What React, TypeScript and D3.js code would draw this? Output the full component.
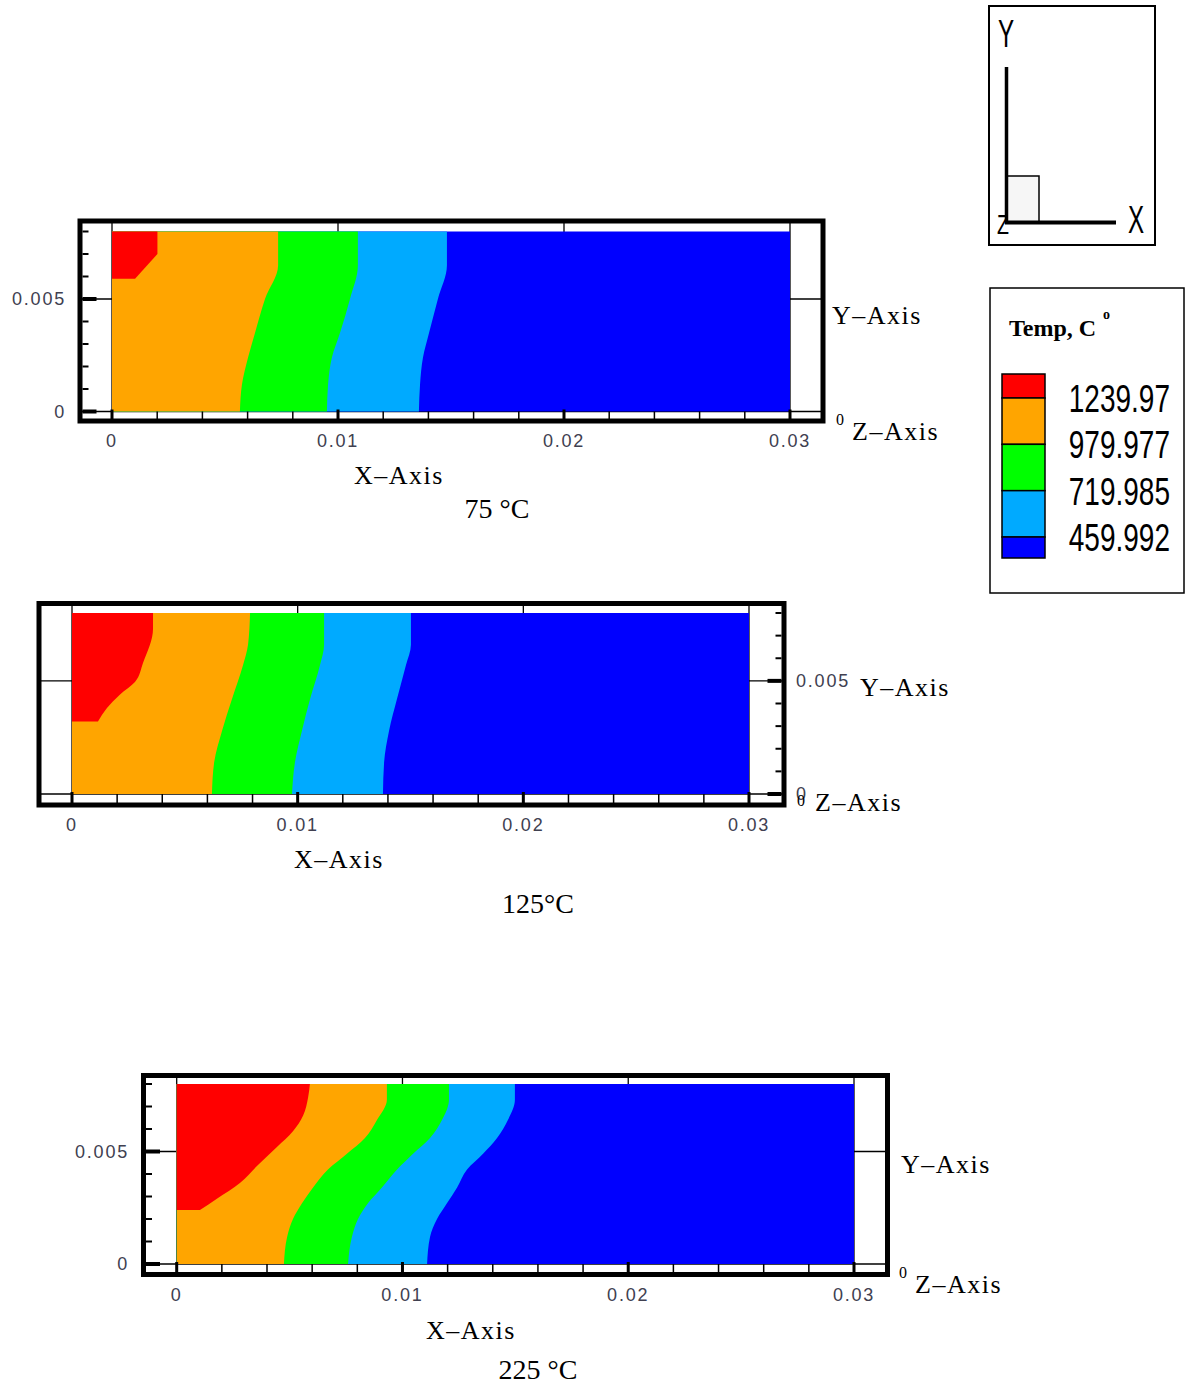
import React from "react";
import * as d3 from "d3";

// contour band colours, hottest first
const bandColors = ["#ff0000", "#ffa500", "#00ff00", "#00aaff", "#0000ff"];
const legendLevels = [1239.97, 979.977, 719.985, 459.992];
const legendLabels = ["1239.97", "979.977", "719.985", "459.992"];

const xMajorTicks = [0, 0.01, 0.02, 0.03];
const xTickLabels = ["0", "0.01", "0.02", "0.03"];
const yMajorTicks = [0, 0.005];
const yTickLabels = ["0", "0.005"];
const xMinorTicks = d3.range(0, 0.0301, 0.002);
const yMinorTicks = d3.range(0, 0.0081, 0.001);

// 75 C : band boundaries, x position (m) at each y (m)
const p1Y = [0.008, 0.0065, 0.005, 0.0035, 0.0024, 0.0012, 0];
const p1OrangeGreen = [0.00735, 0.00735, 0.00677, 0.00633, 0.00602, 0.00575, 0.00566];
const p1GreenCyan = [0.01088, 0.01088, 0.01053, 0.01009, 0.00973, 0.00956, 0.00951];
const p1CyanBlue = [0.01482, 0.01482, 0.01442, 0.01403, 0.01376, 0.01363, 0.01358];
const p1RedY = [0.008, 0.007, 0.0059];
const p1RedX = [0.00201, 0.00201, 0.00102];

// 125 C
const p2Y = [0.008, 0.0066, 0.0057, 0.0042, 0.0028, 0.0014, 0];
const p2OrangeGreen = [0.00789, 0.0078, 0.00758, 0.00709, 0.00665, 0.0063, 0.0062];
const p2GreenCyan = [0.01117, 0.01117, 0.01099, 0.01055, 0.01019, 0.00988, 0.00975];
const p2CyanBlue = [0.01502, 0.01502, 0.0148, 0.0144, 0.01405, 0.01383, 0.01378];
const p2RedY = [0.008, 0.0073, 0.0058, 0.00495, 0.0044, 0.0038, 0.0032];
const p2RedX = [0.00359, 0.00359, 0.00315, 0.00279, 0.00213, 0.00155, 0.00115];

// 225 C
const p3Y = [0.008, 0.0073, 0.0064, 0.0056, 0.0049, 0.0042, 0.0034, 0.0027, 0.002, 0.0012, 0];
const p3OrangeGreen = [0.00931, 0.00931, 0.00887, 0.00834, 0.00754, 0.0067, 0.00604, 0.00555, 0.00515, 0.00489, 0.00475];
const p3GreenCyan = [0.01206, 0.01206, 0.01175, 0.01122, 0.01047, 0.00976, 0.00909, 0.00847, 0.00803, 0.00776, 0.00759];
const p3CyanBlue = [0.01498, 0.01498, 0.01467, 0.01419, 0.01357, 0.01286, 0.01242, 0.01197, 0.01153, 0.01122, 0.01109];
const p3RedY = [0.008, 0.0074, 0.0066, 0.0059, 0.0052, 0.0044, 0.0036, 0.0029, 0.0024];
const p3RedX = [0.0059, 0.00582, 0.0056, 0.00515, 0.00444, 0.0036, 0.0028, 0.00178, 0.00103];

const captions = ["75 °C", "125°C", "225  °C"];

const sans = "'Liberation Sans', Arial, sans-serif";
const serif = "'Liberation Serif', 'Times New Roman', serif";

const panels = [
  {
    x0: 112, x1: 790, y0: 411.5, y1: 231.5,
    frame: { l: 80, r: 823, t: 221, b: 421 },
    ySide: "left", yLabelX: 66,
    yAxisPos: [832, 324], zAxisPos: [852, 440], zZeroPos: [836, 425],
    xTitle: [399, 484], caption: [497, 518],
    ys: p1Y, bounds: [p1CyanBlue, p1GreenCyan, p1OrangeGreen], redY: p1RedY, redX: p1RedX, redCurve: d3.curveLinear,
  },
  {
    x0: 72, x1: 749, y0: 794, y1: 613,
    frame: { l: 39, r: 784, t: 603.5, b: 805 },
    ySide: "right", yLabelX: 796,
    yAxisPos: [860, 696], zAxisPos: [815, 811], zZeroPos: [797, 806],
    xTitle: [339, 868], caption: [538, 913],
    ys: p2Y, bounds: [p2CyanBlue, p2GreenCyan, p2OrangeGreen], redY: p2RedY, redX: p2RedX, redCurve: d3.curveMonotoneY,
  },
  {
    x0: 176.7, x1: 854, y0: 1264, y1: 1084,
    frame: { l: 143.5, r: 887.5, t: 1075.5, b: 1274.5 },
    ySide: "left", yLabelX: 129,
    yAxisPos: [901, 1173], zAxisPos: [915, 1293], zZeroPos: [899, 1278],
    xTitle: [471, 1339], caption: [538, 1379],
    ys: p3Y, bounds: [p3CyanBlue, p3GreenCyan, p3OrangeGreen], redY: p3RedY, redX: p3RedX, redCurve: d3.curveMonotoneY,
  },
];

function Panel({ p, caption }: any) {
  const x = d3.scaleLinear().domain([0, 0.03]).range([p.x0, p.x1]);
  const y = d3.scaleLinear().domain([0, 0.008]).range([p.y0, p.y1]);
  const f = p.frame;
  const area = (curve: any) =>
    d3
      .area<[number, number]>()
      .y((d) => y(d[0]))
      .x0(x(0))
      .x1((d) => x(d[1]))
      .curve(curve);

  const left = p.ySide === "left";
  const edge = left ? f.l + 2.5 : f.r - 2.5;
  const dir = left ? 1 : -1;

  return (
    <g>
      <rect x={f.l} y={f.t} width={f.r - f.l} height={f.b - f.t} fill="#fff" />
      {/* grid lines at major ticks */}
      {xMajorTicks.map((t) => (
        <line key={"gx" + t} x1={x(t)} x2={x(t)} y1={f.t} y2={f.b} stroke="#000" strokeWidth={1.3} />
      ))}
      {yMajorTicks.map((t) => (
        <line key={"gy" + t} x1={f.l} x2={f.r} y1={y(t)} y2={y(t)} stroke="#000" strokeWidth={1.3} />
      ))}
      {/* contour bands */}
      <rect x={x(0)} y={y(0.008)} width={x(0.03) - x(0)} height={y(0) - y(0.008)} fill={bandColors[4]} />
      {p.bounds.map((b: number[], i: number) => (
        <path key={"b" + i} d={area(d3.curveMonotoneY)(d3.zip(p.ys, b) as any) || ""} fill={bandColors[3 - i]} />
      ))}
      <path d={area(p.redCurve)(d3.zip(p.redY, p.redX) as any) || ""} fill={bandColors[0]} />
      {/* x ticks on the bottom edge */}
      {xMinorTicks.map((t) => (
        <line key={"tx" + t} x1={x(t)} x2={x(t)} y1={f.b - 2} y2={y(0)} stroke="#000" strokeWidth={1.5} />
      ))}
      {xMajorTicks.map((t) => (
        <line key={"TX" + t} x1={x(t)} x2={x(t)} y1={f.b - 2} y2={y(0) - 2} stroke="#000" strokeWidth={3} />
      ))}
      {/* y ticks */}
      {yMinorTicks.map((t) => (
        <line key={"ty" + t} x1={edge} x2={edge + dir * 6} y1={y(t)} y2={y(t)} stroke="#000" strokeWidth={2} />
      ))}
      {yMajorTicks.map((t) => (
        <line key={"TY" + t} x1={edge} x2={edge + dir * 14} y1={y(t)} y2={y(t)} stroke="#000" strokeWidth={4} />
      ))}
      <rect x={f.l} y={f.t} width={f.r - f.l} height={f.b - f.t} fill="none" stroke="#000" strokeWidth={5} />
      {/* tick labels */}
      {xMajorTicks.map((t, i) => (
        <text key={"lx" + t} x={x(t)} y={f.b + 26} textAnchor="middle" fontFamily={sans} fontSize={18}
          letterSpacing={1.8} fill="#404050">{xTickLabels[i]}</text>
      ))}
      {yMajorTicks.map((t, i) => (
        <text key={"ly" + t} x={p.yLabelX} y={y(t)} dy="0.35em" textAnchor={left ? "end" : "start"}
          fontFamily={sans} fontSize={18} letterSpacing={1.8} fill="#404050">{yTickLabels[i]}</text>
      ))}
      <text x={p.yAxisPos[0]} y={p.yAxisPos[1]} fontFamily={serif} fontSize={26} letterSpacing={1.5}>Y–Axis</text>
      <text x={p.zAxisPos[0]} y={p.zAxisPos[1]} fontFamily={serif} fontSize={26} letterSpacing={1.5}>Z–Axis</text>
      <text x={p.zZeroPos[0]} y={p.zZeroPos[1]} fontFamily={serif} fontSize={16}>0</text>
      <text x={p.xTitle[0]} y={p.xTitle[1]} textAnchor="middle" fontFamily={serif} fontSize={26} letterSpacing={1.5}>X–Axis</text>
      <text x={p.caption[0]} y={p.caption[1]} textAnchor="middle" fontFamily={serif} fontSize={28}>{caption}</text>
    </g>
  );
}

function Legend() {
  const ly = d3.scaleLinear().domain([459.992, 1239.97]).range([537, 398]);
  const edges = [ly(1239.97) - 24, ...legendLevels.map((v) => ly(v)), ly(459.992) + 21];
  return (
    <g>
      <rect x={990} y={288} width={194} height={305} fill="#fff" stroke="#000" strokeWidth={1.5} />
      <text x={1009} y={336} fontFamily={serif} fontSize={24} fontWeight="bold">Temp, C</text>
      <text x={1103} y={319} fontFamily={serif} fontSize={14} fontWeight="bold">o</text>
      {bandColors.map((c, i) => (
        <rect key={c} x={1002} y={edges[i]} width={43} height={edges[i + 1] - edges[i]} fill={c}
          stroke="#000" strokeWidth={1.5} />
      ))}
      {legendLevels.map((v, i) => (
        <text key={v} transform={`translate(1170,${ly(v)}) scale(1,1.38)`} dy="0.36em" textAnchor="end"
          fontFamily={sans} fontSize={28}>{legendLabels[i]}</text>
      ))}
    </g>
  );
}

function Triad() {
  return (
    <g>
      <rect x={989} y={6} width={166} height={239} fill="#fff" stroke="#000" strokeWidth={2} />
      <text transform="translate(998,47) scale(0.62,1)" fontFamily={sans} fontSize={39}>Y</text>
      <text transform="translate(1128,233) scale(0.62,1)" fontFamily={sans} fontSize={39}>X</text>
      <text transform="translate(997,234) scale(0.7,1)" fontFamily={sans} fontSize={28}>Z</text>
      <rect x={1007} y={176} width={32} height={46} fill="#f6f6f6" stroke="#000" strokeWidth={1.5} />
      <line x1={1006.5} x2={1006.5} y1={67} y2={224} stroke="#000" strokeWidth={3.5} />
      <line x1={1005} x2={1116} y1={222.5} y2={222.5} stroke="#000" strokeWidth={4} />
    </g>
  );
}

export default function App() {
  return (
    <svg width={1186} height={1384} style={{ position: "absolute", left: 0, top: 0, display: "block", background: "#fff" }}>
      {panels.map((p, i) => (
        <Panel key={i} p={p} caption={captions[i]} />
      ))}
      <Triad />
      <Legend />
    </svg>
  );
}
